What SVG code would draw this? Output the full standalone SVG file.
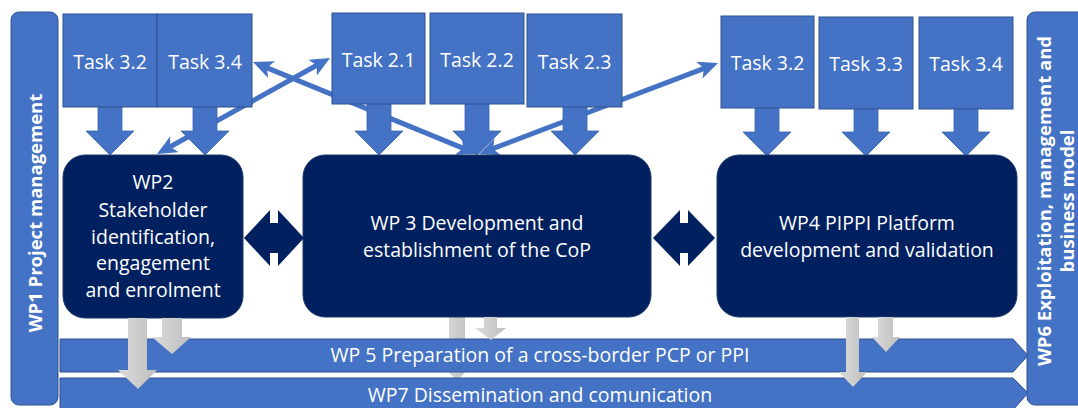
<svg xmlns="http://www.w3.org/2000/svg" width="1078" height="408" viewBox="0 0 1078 408">
<style>
.bar{fill:#4472C4;stroke:#2F528F;stroke-width:1}
.band{fill:#4472C4;stroke:#2F528F;stroke-width:1}
.task{fill:#4472C4;stroke:#2F528F;stroke-width:1}
.tarrow{fill:#4472C4;stroke:#3B66B5;stroke-width:0.8}
.wp{fill:#002060;stroke:#1F3864;stroke-width:1}
.dbl{fill:#002060}
.grey{fill:url(#g)}
.link{fill:none;stroke:#4472C4;stroke-width:5;marker-start:url(#h);marker-end:url(#h)}
text{font-family:"Open Sans","Noto Sans","DejaVu Sans",sans-serif;fill:#ffffff}
.t{font-size:19.5px;text-anchor:middle}
.vb{font-size:18.5px;font-weight:bold;text-anchor:middle}
</style>
<defs>
<linearGradient id="g" x1="0" y1="0" x2="1" y2="0">
<stop offset="0" stop-color="#DCDCDC"/>
<stop offset="1" stop-color="#BEBEBE"/>
</linearGradient>
<marker id="h" markerUnits="userSpaceOnUse" markerWidth="22" markerHeight="18" refX="8" refY="9" orient="auto-start-reverse" viewBox="0 0 22 18">
<path d="M0,0 L20,9 L0,18 L5,9 z" fill="#4472C4"/>
</marker>
<path id="ta" d="M-12,-52 H12 V-24 H24 L0,0 L-24,-24 H-12 Z"/>
</defs>

<g id="wp1">
<rect class="bar" x="11" y="12" width="47" height="393" rx="8"/>
<text class="vb" transform="translate(42,213) rotate(-90)">WP1 Project management</text>
</g>

<g id="connectors-back">
<path class="grey" d="M449,317 H465 V364 H473 L457,381 L441,364 H449 Z"/>
<line class="link" x1="167.5" y1="148.2" x2="319.5" y2="63.8"/>
<line class="link" x1="264.1" y1="66.6" x2="465.9" y2="149.4"/>
<line class="link" x1="706.8" y1="67.3" x2="490.2" y2="149.7"/>
</g>

<g id="wp5">
<polygon class="band" points="60,339 1013,339 1028,355.5 1013,372 60,372"/>
<text class="t" x="540" y="362">WP 5 Preparation of a cross-border PCP or PPI</text>
</g>
<g id="wp7">
<polygon class="band" points="60,378 1013,378 1028,393 1013,410 60,410"/>
<text class="t" x="540" y="402">WP7 Dissemination and comunication</text>
</g>

<g id="wp6">
<rect class="bar" x="1027" y="12" width="60" height="393" rx="8"/>
<text class="vb" transform="translate(1051,201) rotate(-90)">WP6 Exploitation, management and</text>
<text class="vb" transform="translate(1074,201) rotate(-90)">business model</text>
</g>

<g id="task-arrows">
<use href="#ta" class="tarrow" x="110" y="155"/>
<use href="#ta" class="tarrow" x="205" y="155"/>
<use href="#ta" class="tarrow" x="379" y="155"/>
<use href="#ta" class="tarrow" x="477" y="155"/>
<use href="#ta" class="tarrow" x="575" y="155"/>
<use href="#ta" class="tarrow" x="767" y="156"/>
<use href="#ta" class="tarrow" x="866" y="156"/>
<use href="#ta" class="tarrow" x="966" y="156"/>
</g>

<g id="task-3-2-a">
<rect class="task" x="63" y="14" width="94" height="93"/>
<text class="t" x="110" y="69">Task 3.2</text>
</g>
<g id="task-3-4-a">
<rect class="task" x="157" y="14" width="95" height="93"/>
<text class="t" x="205" y="69">Task 3.4</text>
</g>
<g id="task-2-1">
<rect class="task" x="332" y="13" width="93" height="91"/>
<text class="t" x="378.5" y="67">Task 2.1</text>
</g>
<g id="task-2-2">
<rect class="task" x="430" y="13" width="94" height="91"/>
<text class="t" x="477" y="67">Task 2.2</text>
</g>
<g id="task-2-3">
<rect class="task" x="527" y="14" width="95" height="93"/>
<text class="t" x="574.5" y="69">Task 2.3</text>
</g>
<g id="task-3-2-b">
<rect class="task" x="721" y="16" width="93" height="92"/>
<text class="t" x="767.5" y="70">Task 3.2</text>
</g>
<g id="task-3-3">
<rect class="task" x="819" y="17" width="94" height="92"/>
<text class="t" x="866" y="71">Task 3.3</text>
</g>
<g id="task-3-4-b">
<rect class="task" x="919" y="17" width="94" height="92"/>
<text class="t" x="966" y="71">Task 3.4</text>
</g>

<g id="wp2">
<rect class="wp" x="63" y="155" width="180" height="163" rx="22"/>
<text class="t" x="153" y="189">WP2</text>
<text class="t" x="153" y="217">Stakeholder</text>
<text class="t" x="153" y="244">identification,</text>
<text class="t" x="153" y="270">engagement</text>
<text class="t" x="153" y="297">and enrolment</text>
</g>
<g id="wp3">
<rect class="wp" x="303" y="155" width="348" height="162" rx="22"/>
<text class="t" x="477" y="230">WP 3 Development and</text>
<text class="t" x="477" y="257">establishment of the CoP</text>
</g>
<g id="wp4">
<rect class="wp" x="717" y="155" width="300" height="162" rx="22"/>
<text class="t" x="867" y="230">WP4 PIPPI Platform</text>
<text class="t" x="867" y="257">development and validation</text>
</g>

<g id="connectors">
<polygon class="dbl" points="244,238 270,210 270,223 278,223 278,210 304,238 278,266 278,253 270,253 270,266"/>
<polygon class="dbl" points="653,238 680,210 680,223 688,223 688,210 715,238 688,266 688,253 680,253 680,266"/>
<path class="grey" d="M128,318 H147 V370 H157 L138,389 L118,370 H128 Z"/>
<path class="grey" d="M162,318 H182 V337 H191 L172,354 L152,337 H162 Z"/>
<path class="grey" d="M484,317 H497 V328 H506 L491,340 L475,328 H484 Z"/>
<path class="grey" d="M846,317 H859 V372 H867 L853,387 L839,372 H846 Z"/>
<path class="grey" d="M878,317 H893 V337 H900 L886,352 L872,337 H878 Z"/>
</g>
</svg>
